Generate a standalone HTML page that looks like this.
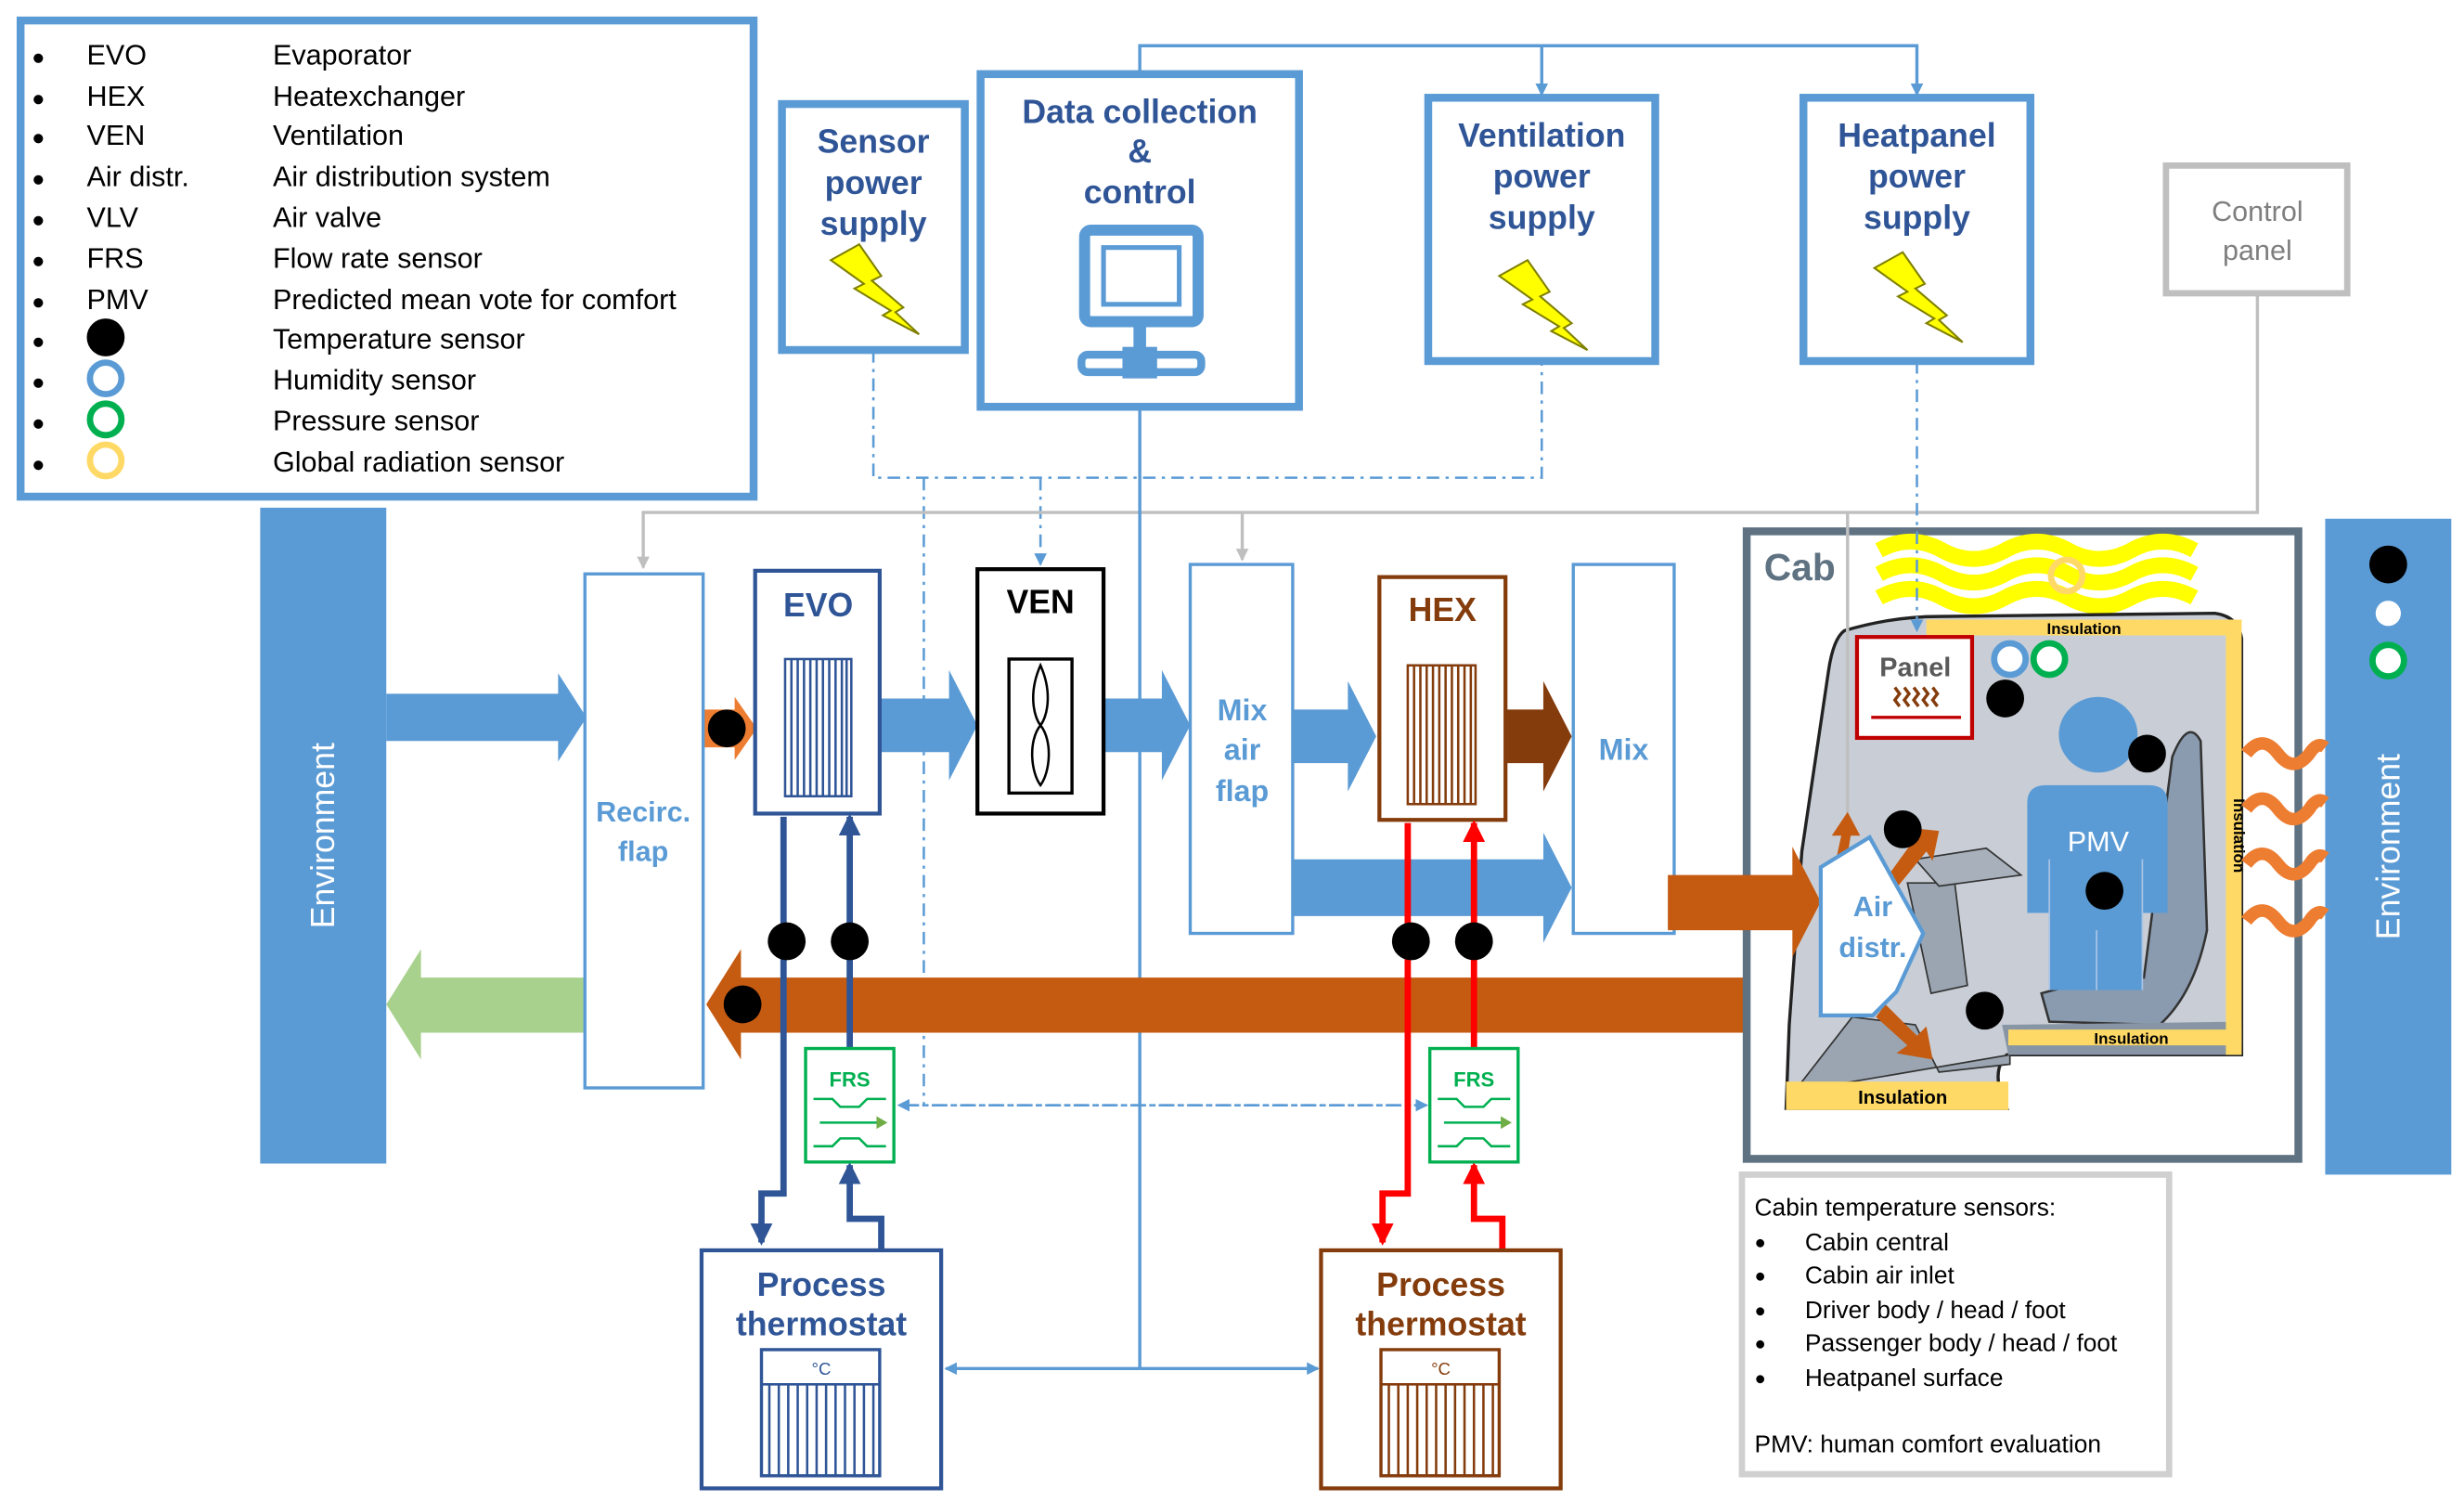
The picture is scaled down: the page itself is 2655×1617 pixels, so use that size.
<!DOCTYPE html>
<html><head><meta charset="utf-8"><style>html,body{margin:0;padding:0;background:#fff}svg{display:block}</style></head>
<body>
<svg width="2655" height="1617" viewBox="0 0 1563 952" xmlns="http://www.w3.org/2000/svg" font-family="Liberation Sans, sans-serif">
<defs>
<marker id="ab" markerWidth="8" markerHeight="8" refX="7" refY="4" orient="auto" markerUnits="userSpaceOnUse"><path d="M0,0 L8,4 L0,8 z" fill="#5b9bd5"/></marker>
<marker id="ag" markerWidth="8" markerHeight="8" refX="7" refY="4" orient="auto" markerUnits="userSpaceOnUse"><path d="M0,0 L8,4 L0,8 z" fill="#bfbfbf"/></marker>
<marker id="ad" markerWidth="14" markerHeight="14" refX="12" refY="7" orient="auto" markerUnits="userSpaceOnUse"><path d="M0,0 L14,7 L0,14 z" fill="#2f5597"/></marker>
<marker id="ar" markerWidth="14" markerHeight="14" refX="12" refY="7" orient="auto" markerUnits="userSpaceOnUse"><path d="M0,0 L14,7 L0,14 z" fill="#ff0000"/></marker>
</defs>

<!-- Legend -->
<rect x="13" y="13" width="465" height="302" fill="#fff" stroke="#5b9bd5" stroke-width="5"/>
<g font-size="18" fill="#000">
<g font-size="14"><text x="20" y="41">●</text><text x="20" y="67">●</text><text x="20" y="92">●</text><text x="20" y="118">●</text><text x="20" y="144">●</text><text x="20" y="170">●</text><text x="20" y="196">●</text><text x="20" y="221">●</text><text x="20" y="247">●</text><text x="20" y="273">●</text><text x="20" y="299">●</text></g>
<text x="55" y="41">EVO</text><text x="173" y="41">Evaporator</text>
<text x="55" y="67">HEX</text><text x="173" y="67">Heatexchanger</text>
<text x="55" y="92">VEN</text><text x="173" y="92">Ventilation</text>
<text x="55" y="118">Air distr.</text><text x="173" y="118">Air distribution system</text>
<text x="55" y="144">VLV</text><text x="173" y="144">Air valve</text>
<text x="55" y="170">FRS</text><text x="173" y="170">Flow rate sensor</text>
<text x="55" y="196">PMV</text><text x="173" y="196">Predicted mean vote for comfort</text>
<text x="173" y="221">Temperature sensor</text>
<text x="173" y="247">Humidity sensor</text>
<text x="173" y="273">Pressure sensor</text>
<text x="173" y="299">Global radiation sensor</text>
</g>
<circle cx="67" cy="214" r="12" fill="#000"/>
<circle cx="67" cy="240" r="10" fill="none" stroke="#5b9bd5" stroke-width="4"/>
<circle cx="67" cy="266" r="10" fill="none" stroke="#00b050" stroke-width="4"/>
<circle cx="67" cy="292" r="10" fill="none" stroke="#ffd966" stroke-width="4"/>

<!-- Top connector lines -->
<path d="M723,47 V29 H1216 V60" fill="none" stroke="#5b9bd5" stroke-width="2" marker-end="url(#ab)"/>
<path d="M978,29 V60" fill="none" stroke="#5b9bd5" stroke-width="2" marker-end="url(#ab)"/>

<!-- Dash-dot lines -->
<g fill="none" stroke="#5b9bd5" stroke-width="1.5" stroke-dasharray="8,4,2,4">
<path d="M554,222 V303 H978 V229"/>
<path d="M586,303 V701"/>
<path d="M660,303 V358" marker-end="url(#ab)"/>
<path d="M575,701 H905" marker-end="url(#ab)"/>
<path d="M905,701 H570" marker-end="url(#ab)"/>
</g>
<!-- Gray lines -->
<g fill="none" stroke="#bfbfbf" stroke-width="2">
<path d="M1432,186 V325 H408 V360" marker-end="url(#ag)"/>
<path d="M788,325 V355" marker-end="url(#ag)"/>
</g>
<!-- Blue solid line data -> thermostats -->
<path d="M723,258 V868" fill="none" stroke="#5b9bd5" stroke-width="2"/>
<path d="M723,868 H836" fill="none" stroke="#5b9bd5" stroke-width="2" marker-end="url(#ab)"/>
<path d="M723,868 H600" fill="none" stroke="#5b9bd5" stroke-width="2" marker-end="url(#ab)"/>

<!-- Top boxes -->
<g fill="#fff" stroke="#5b9bd5" stroke-width="5">
<rect x="496" y="66" width="116" height="156"/>
<rect x="622" y="47" width="202" height="211"/>
<rect x="906" y="62" width="144" height="167"/>
<rect x="1144" y="62" width="144" height="167"/>
</g>
<rect x="1374" y="105" width="115" height="81" fill="#fff" stroke="#bfbfbf" stroke-width="4"/>
<g font-size="21" font-weight="bold" fill="#2f5597" text-anchor="middle">
<text x="554" y="97">Sensor</text><text x="554" y="123">power</text><text x="554" y="149">supply</text>
<text x="723" y="78">Data collection</text><text x="723" y="103">&amp;</text><text x="723" y="129">control</text>
<text x="978" y="93">Ventilation</text><text x="978" y="119">power</text><text x="978" y="145">supply</text>
<text x="1216" y="93">Heatpanel</text><text x="1216" y="119">power</text><text x="1216" y="145">supply</text>
</g>
<g font-size="18" fill="#7f7f7f" text-anchor="middle"><text x="1432" y="140">Control</text><text x="1432" y="165">panel</text></g>
<!-- lightning -->
<g fill="#ffff00" stroke="#7f7f00" stroke-width="1.2">
<polygon points="527,165 545,155 559,175 553,178 573,195 568,198 583,212 560,200 565,197 542,183 548,180"/>
<polygon points="951,175 969,165 983,185 977,188 997,205 992,208 1007,222 984,210 989,207 966,193 972,190"/>
<polygon points="1189,170 1207,160 1221,180 1215,183 1235,200 1230,203 1245,217 1222,205 1227,202 1204,188 1210,185"/>
</g>
<!-- monitor -->
<g fill="none" stroke="#5b9bd5">
<rect x="688" y="146" width="72" height="58" rx="4" stroke-width="7"/>
<rect x="700" y="157" width="48" height="36" stroke-width="3"/>
<path d="M723,204 V226" stroke-width="8"/>
<rect x="686" y="225" width="76" height="11" rx="4" stroke-width="5"/>
</g>
<rect x="712" y="220" width="22" height="20" fill="#5b9bd5"/>

<!-- Environment bars -->
<rect x="165" y="322" width="80" height="416" fill="#5b9bd5"/>
<text transform="translate(212,530) rotate(-90)" font-size="21" fill="#fff" text-anchor="middle">Environment</text>
<rect x="1475" y="329" width="80" height="416" fill="#5b9bd5"/>
<text transform="translate(1522,537) rotate(-90)" font-size="21" fill="#fff" text-anchor="middle">Environment</text>
<circle cx="1515" cy="358" r="12" fill="#000"/>
<circle cx="1515" cy="389" r="10" fill="#fff" stroke="#5b9bd5" stroke-width="4"/>
<circle cx="1515" cy="419" r="10" fill="#fff" stroke="#00b050" stroke-width="4"/>

<!-- Block arrows -->
<polygon points="245,440 354,440 354,427 372,455 354,483 354,470 245,470" fill="#5b9bd5"/>
<polygon points="558,443 602,443 602,425 620,460 602,495 602,477 558,477" fill="#5b9bd5"/>
<polygon points="700,443 737,443 737,425 755,460 737,495 737,477 700,477" fill="#5b9bd5"/>
<polygon points="820,450 855,450 855,432 873,467 855,502 855,484 820,484" fill="#5b9bd5"/>
<polygon points="955,450 979,450 979,432 997,467 979,502 979,484 955,484" fill="#843c0c"/>
<polygon points="820,545 979,545 979,528 997,563 979,598 979,581 820,581" fill="#5b9bd5"/>
<polygon points="1110,620 470,620 470,602 448,637 470,672 470,655 1110,655" fill="#c55a11"/>
<polygon points="372,620 267,620 267,602 245,637 267,672 267,655 372,655" fill="#a9d18e"/>
<polygon points="446,450 466,450 466,442 480,462 466,482 466,474 446,474" fill="#ed7d31"/>

<!-- Component boxes -->
<rect x="371" y="364" width="75" height="326" fill="#fff" stroke="#5b9bd5" stroke-width="2"/>
<g font-size="18" font-weight="bold" fill="#5b9bd5" text-anchor="middle"><text x="408" y="521">Recirc.</text><text x="408" y="546">flap</text></g>
<rect x="479" y="362" width="79" height="154" fill="#fff" stroke="#2f5597" stroke-width="2.5"/>
<text x="519" y="391" font-size="21" font-weight="bold" fill="#2f5597" text-anchor="middle">EVO</text>
<rect x="498" y="418" width="42" height="87" fill="#fff" stroke="#2f5597" stroke-width="1.5"/>
<path d="M502,418V505M506,418V505M510,418V505M514,418V505M518,418V505M522,418V505M526,418V505M530,418V505M534,418V505M537,418V505" stroke="#2f5597" stroke-width="1.5"/>
<rect x="620" y="361" width="80" height="155" fill="#fff" stroke="#000" stroke-width="2.5"/>
<text x="660" y="389" font-size="21" font-weight="bold" fill="#000" text-anchor="middle">VEN</text>
<rect x="640" y="418" width="40" height="85" fill="#fff" stroke="#000" stroke-width="2"/>
<path d="M660,422 C652,440 656,455 660,460 C664,455 668,440 660,422 Z M660,460 C652,470 654,490 660,498 C666,490 668,470 660,460 Z" fill="none" stroke="#000" stroke-width="1.5"/>
<rect x="755" y="358" width="65" height="234" fill="#fff" stroke="#5b9bd5" stroke-width="2"/>
<g font-size="19" font-weight="bold" fill="#5b9bd5" text-anchor="middle"><text x="788" y="457">Mix</text><text x="788" y="482">air</text><text x="788" y="508">flap</text></g>
<rect x="875" y="366" width="80" height="154" fill="#fff" stroke="#843c0c" stroke-width="2.5"/>
<text x="915" y="394" font-size="21" font-weight="bold" fill="#843c0c" text-anchor="middle">HEX</text>
<rect x="893" y="422" width="43" height="88" fill="#fff" stroke="#843c0c" stroke-width="1.5"/>
<path d="M897,422V510M901,422V510M905,422V510M909,422V510M913,422V510M917,422V510M921,422V510M925,422V510M929,422V510M933,422V510" stroke="#843c0c" stroke-width="1.5"/>
<rect x="998" y="358" width="64" height="234" fill="#fff" stroke="#5b9bd5" stroke-width="2"/>
<text x="1030" y="482" font-size="19" font-weight="bold" fill="#5b9bd5" text-anchor="middle">Mix</text>

<!-- Pipes -->
<g fill="none" stroke-width="4">
<path d="M497,518 V757 H483 V788" stroke="#2f5597" marker-end="url(#ad)"/>
<path d="M559,793 V773 H539 V739" stroke="#2f5597" marker-end="url(#ad)"/>
<path d="M539,665 V518" stroke="#2f5597" marker-end="url(#ad)"/>
<path d="M893,522 V757 H877 V788" stroke="#ff0000" marker-end="url(#ar)"/>
<path d="M953,793 V773 H935 V739" stroke="#ff0000" marker-end="url(#ar)"/>
<path d="M935,665 V522" stroke="#ff0000" marker-end="url(#ar)"/>
</g>
<!-- FRS -->
<g>
<rect x="511" y="665" width="56" height="72" fill="#fff" stroke="#00b050" stroke-width="2"/>
<text x="539" y="689" font-size="13" font-weight="bold" fill="#00b050" text-anchor="middle">FRS</text>
<path d="M516,697 H528 L533,702 H545 L550,697 H562 M516,727 H528 L533,722 H545 L550,727 H562 M520,712 H558" fill="none" stroke="#00b050" stroke-width="1.5"/>
<polygon points="556,708 563,712 556,716" fill="#70ad47"/>
<rect x="907" y="665" width="56" height="72" fill="#fff" stroke="#00b050" stroke-width="2"/>
<text x="935" y="689" font-size="13" font-weight="bold" fill="#00b050" text-anchor="middle">FRS</text>
<path d="M912,697 H924 L929,702 H941 L946,697 H958 M912,727 H924 L929,722 H941 L946,727 H958 M916,712 H954" fill="none" stroke="#00b050" stroke-width="1.5"/>
<polygon points="952,708 959,712 952,716" fill="#70ad47"/>
</g>
<!-- dots -->
<g fill="#000">
<circle cx="461" cy="462" r="12"/>
<circle cx="499" cy="597" r="12"/><circle cx="539" cy="597" r="12"/>
<circle cx="471" cy="637" r="12"/>
<circle cx="895" cy="597" r="12"/><circle cx="935" cy="597" r="12"/>
</g>

<!-- Process thermostats -->
<rect x="445" y="793" width="152" height="151" fill="#fff" stroke="#2f5597" stroke-width="2.5"/>
<g font-size="21" font-weight="bold" fill="#2f5597" text-anchor="middle"><text x="521" y="822">Process</text><text x="521" y="847">thermostat</text></g>
<rect x="483" y="856" width="75" height="80" fill="#fff" stroke="#2f5597" stroke-width="2"/>
<path d="M483,878 H558 M488,878V936M494,878V936M500,878V936M506,878V936M512,878V936M518,878V936M524,878V936M530,878V936M536,878V936M542,878V936M548,878V936M554,878V936" stroke="#2f5597" stroke-width="1.5"/>
<text x="521" y="872" font-size="11" fill="#2f5597" text-anchor="middle">°C</text>
<rect x="838" y="793" width="152" height="151" fill="#fff" stroke="#843c0c" stroke-width="2.5"/>
<g font-size="21" font-weight="bold" fill="#843c0c" text-anchor="middle"><text x="914" y="822">Process</text><text x="914" y="847">thermostat</text></g>
<rect x="876" y="856" width="75" height="80" fill="#fff" stroke="#843c0c" stroke-width="2"/>
<path d="M876,878 H951 M881,878V936M887,878V936M893,878V936M899,878V936M905,878V936M911,878V936M917,878V936M923,878V936M929,878V936M935,878V936M941,878V936M947,878V936" stroke="#843c0c" stroke-width="1.5"/>
<text x="914" y="872" font-size="11" fill="#843c0c" text-anchor="middle">°C</text>

<!-- Cab -->
<rect x="1108" y="337" width="350" height="398" fill="#fff" stroke="#5f7282" stroke-width="5"/>
<text x="1119" y="368" font-size="24" font-weight="bold" fill="#5f7282">Cab</text>
<!-- yellow waves -->
<g fill="none" stroke="#ffff00" stroke-width="10">
<path d="M1192,349 q20,-11 40,0 t40,0 t40,0 t40,0 t40,0"/>
<path d="M1192,364 q20,-11 40,0 t40,0 t40,0 t40,0 t40,0"/>
<path d="M1192,379 q20,-11 40,0 t40,0 t40,0 t40,0 t40,0"/>
</g>
<circle cx="1311" cy="365" r="10" fill="none" stroke="#ffd966" stroke-width="4"/>
<!-- cab shape -->
<path d="M1170,400 Q1200,391 1230,391 L1405,389 Q1420,391 1422,405 L1422,669 L1273,669 Q1262,680 1273,703 L1133,703 L1135,650 L1143,540 L1160,425 Q1163,405 1170,400 Z" fill="#c9ced6" stroke="#222" stroke-width="2"/>
<!-- interior greys -->
<path d="M1378,480 Q1388,455 1396,470 L1400,590 Q1392,630 1370,650 L1300,648 L1295,630 Q1330,620 1360,620 Z" fill="#8a9bb0" stroke="#333" stroke-width="1.5"/>
<path d="M1140,690 L1175,645 L1215,650 L1230,680 L1275,675 L1275,669 L1140,692 Z" fill="#9aa5b1" stroke="#333" stroke-width="1"/>
<path d="M1210,560 L1240,560 L1248,625 L1225,630 Z" fill="#9aa5b1" stroke="#333" stroke-width="1"/>
<path d="M1215,545 L1260,538 L1282,555 L1230,562 Z" fill="#a7b0bb" stroke="#333" stroke-width="1"/>
<path d="M1270,650 L1422,648 L1422,669 L1274,669 Z" fill="#8795a5"/>
<!-- insulation -->
<g fill="#ffd966">
<rect x="1222" y="393" width="200" height="10"/>
<rect x="1412" y="393" width="10" height="276"/>
<rect x="1274" y="653" width="148" height="10"/>
<rect x="1133" y="686" width="141" height="18"/>
</g>
<g font-size="10" font-weight="bold" fill="#000" text-anchor="middle">
<text x="1322" y="402">Insulation</text>
<text x="1352" y="662">Insulation</text>
<text x="1207" y="700" font-size="12">Insulation</text>
<text transform="translate(1417,530) rotate(90)">Insulation</text>
</g>
<!-- panel -->
<rect x="1178" y="404" width="73" height="64" fill="#fff" stroke="#c00000" stroke-width="2.5"/>
<text x="1215" y="429" font-size="17" font-weight="bold" fill="#595959" text-anchor="middle">Panel</text>
<path d="M1202,436 l3,4 -3,4 3,4 M1208,436 l3,4 -3,4 3,4 M1214,436 l3,4 -3,4 3,4 M1220,436 l3,4 -3,4 3,4 M1226,436 l3,4 -3,4 3,4" fill="none" stroke="#843c0c" stroke-width="2"/>
<path d="M1187,455 H1244" stroke="#c00000" stroke-width="2"/>
<circle cx="1275" cy="418" r="10" fill="#fff" stroke="#5b9bd5" stroke-width="4"/>
<circle cx="1300" cy="418" r="10" fill="#fff" stroke="#00b050" stroke-width="4"/>
<!-- person -->
<ellipse cx="1331" cy="466" rx="25" ry="24" fill="#5b9bd5"/>
<path d="M1286,509 Q1286,498 1298,498 L1363,498 Q1375,498 1375,509 L1375,579 L1359,579 L1359,628 L1300,628 L1300,579 L1286,579 Z" fill="#5b9bd5"/>
<path d="M1300,545 V628 M1330,590 V628 M1359,545 V628" stroke="#a9c4e6" stroke-width="1"/>
<text x="1331" y="540" font-size="18" fill="#fff" text-anchor="middle">PMV</text>
<!-- gray line into cab -->
<path d="M1172,325 V550" fill="none" stroke="#bfbfbf" stroke-width="2"/>
<path d="M1216,229 V400" fill="none" stroke="#5b9bd5" stroke-width="1.5" stroke-dasharray="8,4,2,4" marker-end="url(#ab)"/>
<!-- orange small arrows in cab -->
<g fill="#c55a11">
<polygon points="1198,555 1216,530 1211,525 1230,527 1226,546 1222,540 1204,562"/>
<polygon points="1190,645 1210,663 1203,668 1226,672 1222,651 1216,657 1196,637"/>
<polygon points="1163,553 1168,530 1162,530 1172,515 1180,530 1174,530 1170,555"/>
</g>
<!-- brown arrow into cab -->
<polygon points="1058,555 1137,555 1137,537 1155,572 1137,607 1137,590 1058,590" fill="#c55a11"/>
<!-- air distr -->
<polygon points="1155,550 1186,531 1220,592 1203,629 1188,644 1155,644" fill="#fff" stroke="#5b9bd5" stroke-width="2.5"/>
<g font-size="18" font-weight="bold" fill="#5b9bd5" text-anchor="middle"><text x="1188" y="581">Air</text><text x="1188" y="607">distr.</text></g>
<g fill="#000">
<circle cx="1272" cy="443" r="12"/>
<circle cx="1362" cy="478" r="12"/>
<circle cx="1207" cy="526" r="12"/>
<circle cx="1335" cy="565" r="12"/>
<circle cx="1259" cy="641" r="12"/>
</g>
<!-- orange waves right -->
<g fill="none" stroke="#ed7d31" stroke-width="8">
<path d="M1425,478 q10,-13 20,0 t20,0 q5,-8 10,-4"/>
<path d="M1425,513 q10,-13 20,0 t20,0 q5,-8 10,-4"/>
<path d="M1425,548 q10,-13 20,0 t20,0 q5,-8 10,-4"/>
<path d="M1425,584 q10,-13 20,0 t20,0 q5,-8 10,-4"/>
</g>

<!-- Cabin description -->
<rect x="1105" y="745" width="271" height="190" fill="#fff" stroke="#d0d0d0" stroke-width="4"/>
<g font-size="15.5" fill="#000">
<text x="1113" y="771">Cabin temperature sensors:</text>
<g font-size="12"><text x="1113" y="792">●</text><text x="1113" y="813">●</text><text x="1113" y="835">●</text><text x="1113" y="856">●</text><text x="1113" y="878">●</text></g>
<text x="1145" y="793">Cabin central</text>
<text x="1145" y="814">Cabin air inlet</text>
<text x="1145" y="836">Driver body / head / foot</text>
<text x="1145" y="857">Passenger body / head / foot</text>
<text x="1145" y="879">Heatpanel surface</text>
<text x="1113" y="921">PMV: human comfort evaluation</text>
</g>
</svg>
</body></html>
